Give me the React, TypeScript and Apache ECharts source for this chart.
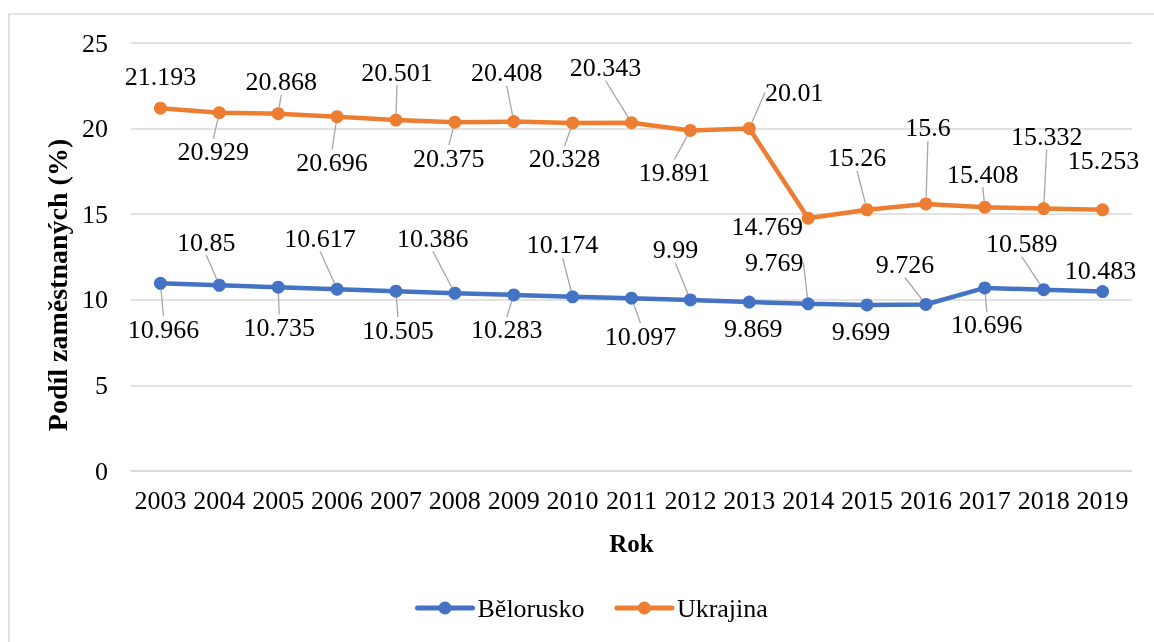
import React, { useEffect, useRef } from "react";
import * as echarts from "echarts";

const years = ["2003", "2004", "2005", "2006", "2007", "2008", "2009", "2010", "2011", "2012", "2013", "2014", "2015", "2016", "2017", "2018", "2019"];
const belarus = [10.966, 10.85, 10.735, 10.617, 10.505, 10.386, 10.283, 10.174, 10.097, 9.99, 9.869, 9.769, 9.699, 9.726, 10.696, 10.589, 10.483];
const ukraine = [21.193, 20.929, 20.868, 20.696, 20.501, 20.375, 20.408, 20.328, 20.343, 19.891, 20.01, 14.769, 15.26, 15.6, 15.408, 15.332, 15.253];
const seriesNames = ["Bělorusko", "Ukrajina"];

// label placement offsets (from each point), in px
const beLabelDx = [3, -13, 1, -17, 2, -22, -7, -10, 9, -15, 4, -34, -6, -21, 2, -22, -2];
const beLabelDy = [46, -43, 40, -51, 39, -55, 35, -52, 38, -50, 26, -41, 27, -40, 37, -46, -21];
const ukLabelDx = [0, -6, 3, -5, 1, -6, -7, -8, -26, -16, 45, -41, -10, 2, -2, 3, 1];
const ukLabelDy = [-32, 39, -32, 46, -48, 36, -49, 36, -55, 42, -36, 8, -52, -76, -33, -72, -49];
const beNoLeader = [10, 12, 16];
const ukNoLeader = [0, 11, 16];

const FONT = "Liberation Serif";

export default function App() {
  const ref = useRef<HTMLDivElement>(null);
  useEffect(() => {
    if (!ref.current) return;
    const chart = echarts.init(ref.current, null, { renderer: "svg" });
    const dxs = [beLabelDx, ukLabelDx];
    const dys = [beLabelDy, ukLabelDy];
    const mkSeries = (name: string, vals: number[], color: string, noLeader: number[]) => ({
      name,
      type: "line",
      data: vals.map((v, i) => ({ value: v, labelLine: { show: !noLeader.includes(i) } })),
      symbol: "circle",
      symbolSize: 13,
      itemStyle: { color },
      lineStyle: { color, width: 4.5 },
      label: { show: true, position: "inside", fontFamily: FONT, fontSize: 26, color: "#000" },
      labelLine: { show: true, lineStyle: { color: "#a6a6a6", width: 1.3 } },
      labelLayout: (p: any) => ({
        dx: dxs[p.seriesIndex][p.dataIndex],
        dy: dys[p.seriesIndex][p.dataIndex],
        hideOverlap: false,
      }),
    });
    chart.setOption({
      animation: false,
      grid: { left: 131, right: 22, top: 43, bottom: 171 },
      graphic: [
        {
          type: "rect",
          shape: { x: 9, y: 14, width: 1160, height: 640 },
          style: { fill: "none", stroke: "#d9d9d9", lineWidth: 1.5 },
          silent: true,
        },
      ],
      legend: {
        data: seriesNames,
        left: 410,
        top: 590,
        itemWidth: 55,
        itemHeight: 16,
        itemGap: 30,
        lineStyle: { width: 5, cap: "round" },
        textStyle: { fontFamily: FONT, fontSize: 26, color: "#000" },
      },
      xAxis: {
        type: "category",
        data: years,
        boundaryGap: true,
        axisLine: { show: true, lineStyle: { color: "#d9d9d9", width: 1.5 } },
        axisTick: { show: false },
        axisLabel: { fontFamily: FONT, fontSize: 26, color: "#000", margin: 16, interval: 0 },
        name: "Rok",
        nameLocation: "middle",
        nameGap: 60,
        nameTextStyle: { fontFamily: FONT, fontSize: 25, fontWeight: "bold", color: "#000" },
      },
      yAxis: {
        type: "value",
        min: 0,
        max: 25,
        interval: 5,
        axisLine: { show: false },
        axisTick: { show: false },
        splitLine: { lineStyle: { color: "#d9d9d9", width: 1.5 } },
        axisLabel: { fontFamily: FONT, fontSize: 26, color: "#000", margin: 23 },
        name: "Podíl zaměstnaných (%)",
        nameLocation: "middle",
        nameGap: 57,
        nameTextStyle: {
          fontFamily: FONT,
          fontSize: 28,
          fontWeight: "bold",
          color: "#000",
          padding: [0, 56, 0, 0],
        },
      },
      series: [
        mkSeries(seriesNames[0], belarus, "#4472C4", beNoLeader),
        mkSeries(seriesNames[1], ukraine, "#ED7D31", ukNoLeader),
      ],
    });
    return () => chart.dispose();
  }, []);
  return <div ref={ref} style={{ position: "fixed", left: 0, top: 0, width: 1154, height: 642 }} />;
}
